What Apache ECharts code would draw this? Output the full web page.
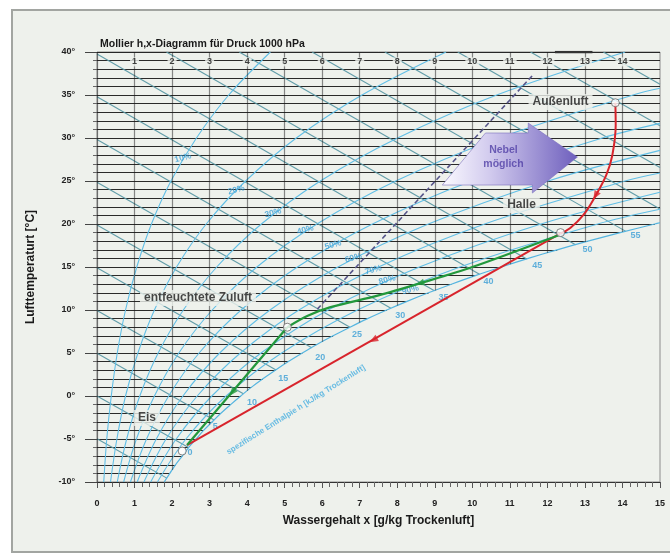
<!DOCTYPE html>
<html><head><meta charset="utf-8">
<script src="https://cdn.jsdelivr.net/npm/echarts@6/dist/echarts.min.js"></script>
<style>html,body{margin:0;padding:0;background:#fff}#c{width:670px;height:554px}</style>
</head><body><div id="c"></div>
<script>
// ---------- data ----------
const satT = [-10,-9,-8,-7,-6,-5,-4,-3,-2,-1,0,1,2,3,4,5,6,7,8,9,10,11,12,13,14,15,16,17,18,19,20];
const satX = [1.79,1.94,2.09,2.27,2.44,2.64,2.84,3.07,3.30,3.56,3.83,4.11,4.42,4.75,5.10,5.47,5.86,6.29,6.74,7.21,7.72,8.26,8.83,9.44,10.08,10.77,11.49,12.26,13.08,13.94,14.86];
const satEdge = [15, 20.15];
const isoTemps = [-10,-9,-8,-7,-6,-5,-4,-3,-2,-1,0,1,2,3,4,5,6,7,8,9,10,11,12,13,14,15,16,17,18,19,20,21,22,23,24,25,26,27,28,29,30,31,32,33,34,35,36,37,38,39,40];
const vertX = [0,1,2,3,4,5,6,7,8,9,10,11,12,13,14];
const vertEndT = [-10,-10,-8.6,-3.3,0.61,3.72,6.32,8.55,10.52,12.28,13.88,15.32,16.66,17.91,19.07];
const topLabels = ['1','2','3','4','5','6','7','8','9','10','11','12','13','14'];

const hVals = [-5,0,5,10,15,20,25,30,35,40,45,50,55,60,65,70,75];
const hStart = [[0,-4.97],[0,0],[0,4.97],[0,9.94],[0,14.91],[0,19.88],[0,24.85],[0,29.82],[0,34.79],[0,39.76],[1.85,40],[3.79,40],[5.73,40],[7.67,40],[9.61,40],[11.55,40],[13.49,40]];
const hEnd = [[1.86,-9.55],[2.44,-6.0],[3.12,-2.78],[3.90,0.25],[4.77,3.03],[5.72,5.61],[6.74,8.0],[7.83,10.2],[8.99,12.25],[10.19,14.16],[11.45,15.94],[12.75,17.59],[14.09,19.14],[15,21.75],[15,26.58],[15,31.42],[15,36.26]];
const hLabelText = ['0','5','10','15','20','25','30','35','40','45','50','55'];
const hLabelPos = [[2.48,-6.6],[3.15,-3.6],[4.13,-0.8],[4.96,2.0],[5.95,4.5],[6.93,7.1],[8.08,9.4],[9.23,11.5],[10.43,13.3],[11.73,15.2],[13.07,17.0],[14.35,18.7]];

const rhT = [-10,-5,0,5,10,15,20,25,30,35,40];
const rh10 = [0.18,0.26,0.38,0.54,0.76,1.06,1.45,1.97,2.65,3.51,4.62];
const rh20 = [0.36,0.53,0.76,1.09,1.53,2.12,2.91,3.96,5.31,7.06,9.30];
const rh30 = [0.54,0.79,1.14,1.63,2.30,3.19,4.38,5.95,8.01,10.65,14.07];
const rh40 = [0.71,1.05,1.53,2.18,3.07,4.26,5.86,7.96,10.71,14.28];
const rh50 = [0.89,1.32,1.91,2.72,3.84,5.34,7.34,9.98,13.46];
const rh60 = [1.07,1.58,2.29,3.27,4.61,6.42,8.83,12.02];
const rh70 = [1.25,1.84,2.67,3.82,5.38,7.50,10.33,14.07];
const rh80 = [1.43,2.11,3.06,4.37,6.16,8.59,11.83];
const rh90 = [1.61,2.37,3.44,4.92,6.94,9.67,13.34];
const rhEdgeT = [null,null,null,35.78,31.7,28.56,25.94,23.69,21.71];
const rhLabelText = ['10%','20%','30%','40%','50%','60%','70%','80%','90%'];
const rhLabelPos = [[2.29,27.67],[3.71,23.95],[4.69,21.28],[5.55,19.3],[6.29,17.56],[6.83,16.05],[7.36,14.65],[7.73,13.49],[8.35,12.33]];

const redCurve = [[13.81,34.1],[13.82,31.5],[13.73,28.0],[13.57,25.7],[13.28,23.26],[12.96,21.05],[12.61,19.53],[12.35,18.9]];
const redLine = [[12.35,18.9],[2.4,-5.7]];
const greenUpper = [[12.3,18.7],[10.0,15.0],[8.6,13.1],[7.5,11.7],[6.2,10.3],[5.6,9.3],[5.07,8.0]];
const greenLower = [[5.07,8.0],[2.4,-5.7]];
const dashedLine = [[5.87,10.1],[11.63,37.4]];
const topMark = [[12.2,40],[13.2,40]];
const statePoints = [[13.81,34.1],[12.35,19.0],[5.07,8.0],[2.27,-6.4]];
const arrowHeads = [[13.28,23.3,150],[7.36,6.5,119],[3.6,0.4,140],[8.6,13.1,107]];
const arrowColors = ['#d8242c','#d8242c','#22983c','#22983c'];
const fogArrow = [[9.2,24.53],[10.35,30.58],[11.49,30.58],[11.49,31.74],[12.8,27.79],[11.6,23.6],[11.6,24.53]];
const annotations = [
  ['Außenluft',12.35,34.19],
  ['Halle',11.31,22.21],
  ['entfeuchtete Zuluft',2.69,11.4],
  ['Eis',1.33,-2.56]
];
const fogText = ['Nebel\nmöglich',10.83,27.8];
const enthalpyText = ['spezifische Enthalpie h [kJ/kg Trockenluft]',5.3,-1.6];

// ---------- build ----------
const FONT = 'Liberation Sans';
const BG = '#eef1ec';
const isoData = isoTemps.map(t => ({coords: [[0,t],[t <= 20 ? satX[t+10] : 15, t]]}));
const vertData = vertX.map((x,i) => ({coords: [[x,40],[x,vertEndT[i]]]}));
const hData = hVals.map((h,i) => ({coords: [hStart[i], hEnd[i]]}));
const satData = satT.map((t,i) => [satX[i], t]).concat([satEdge]);
const rhArrays = [rh10,rh20,rh30,rh40,rh50,rh60,rh70,rh80,rh90];

const series = [];
series.push({type:'lines', coordinateSystem:'cartesian2d', data: isoData, silent:true, z:2,
  lineStyle:{color:'#1f1f1f', width:1.1, opacity:0.95}});
series.push({type:'lines', coordinateSystem:'cartesian2d', data: hData, silent:true, z:3,
  lineStyle:{color:'#5a98a4', width:1.1, opacity:0.95}});
rhArrays.forEach((arr, k) => {
  const d = arr.map((x,i) => [x, rhT[i]]);
  if (rhEdgeT[k] !== null) d.push([15, rhEdgeT[k]]);
  series.push({type:'line', data:d, smooth:0.35, showSymbol:false, silent:true, z:3,
    lineStyle:{color:'#62bfe6', width:1.1}});
});
series.push({type:'line', data:satData, smooth:0.3, showSymbol:false, silent:true, z:3,
  lineStyle:{color:'#55b5e0', width:1.2}});
series.push({type:'lines', coordinateSystem:'cartesian2d', data: vertData, silent:true, z:4,
  lineStyle:{color:'#1a1a1a', width:1.2}});
series.push({type:'line', data:topMark, showSymbol:false, silent:true, z:4,
  lineStyle:{color:'#333', width:2.5}});
// top labels row
series.push({type:'scatter', symbolSize:1, itemStyle:{color:'rgba(0,0,0,0)'}, z:6, silent:true,
  data: topLabels.map((s,i) => ({value:[i+1, 38.85], name:s})),
  label:{show:true, position:'inside', formatter:p=>p.name, color:'#111', fontFamily:FONT, fontWeight:'bold', fontSize:9,
    backgroundColor:BG, padding:[0,2]}});
// dashed line
series.push({type:'line', data:dashedLine, showSymbol:false, silent:true, z:5,
  lineStyle:{color:'#57568a', width:1.6, type:[5,3]}});
// fog arrow
series.push({type:'custom', silent:true, z:6, data:[0],
  renderItem:(params, api) => ({type:'polygon', shape:{points: fogArrow.map(p => api.coord(p))},
    style:{fill:new echarts.graphic.LinearGradient(0,0,1,0,[{offset:0,color:'#fbfaff'},{offset:0.35,color:'#d2cbee'},{offset:1,color:'#6e5fbd'}]), stroke:'#7a6fbd', lineWidth:0.6}})});
series.push({type:'scatter', symbolSize:1, itemStyle:{color:'rgba(0,0,0,0)'}, z:7, silent:true,
  data:[{value:[fogText[1],fogText[2]], name:fogText[0]}],
  label:{show:true, position:'inside', formatter:p=>p.name, color:'#5140a6', fontFamily:FONT, fontWeight:'bold', fontSize:10.5, lineHeight:14, align:'center'}});
// process lines
series.push({type:'line', data:redCurve, smooth:0.4, showSymbol:false, silent:true, z:8, lineStyle:{color:'#d8242c', width:2}});
series.push({type:'line', data:redLine, showSymbol:false, silent:true, z:8, lineStyle:{color:'#d8242c', width:2}});
series.push({type:'line', data:greenUpper, smooth:0.3, showSymbol:false, silent:true, z:8, lineStyle:{color:'#22983c', width:2.2}});
series.push({type:'line', data:greenLower, showSymbol:false, silent:true, z:8, lineStyle:{color:'#22983c', width:2.2}});
arrowHeads.forEach((a,i) => {
  series.push({type:'scatter', symbol:'triangle', symbolSize:[7,9], symbolRotate:a[2], silent:true, z:9,
    itemStyle:{color:arrowColors[i]}, data:[[a[0],a[1]]]});
});
// state points
series.push({type:'scatter', symbol:'circle', symbolSize:8, silent:true, z:10,
  itemStyle:{color:'#ffffff', borderColor:'#666', borderWidth:1}, data:statePoints});
// enthalpy labels
series.push({type:'scatter', symbolSize:1, itemStyle:{color:'rgba(0,0,0,0)'}, z:7, silent:true,
  data: hLabelText.map((s,i) => ({value:hLabelPos[i], name:s})),
  label:{show:true, position:'inside', formatter:p=>p.name, color:'#3b9fd6', fontFamily:FONT, fontWeight:'bold', fontSize:9}});
// RH labels
series.push({type:'scatter', symbolSize:1, itemStyle:{color:'rgba(0,0,0,0)'}, z:7, silent:true,
  data: rhLabelText.map((s,i) => ({value:rhLabelPos[i], name:s})),
  label:{show:true, position:'inside', rotate:15, formatter:p=>p.name, color:'#3b9fd6', fontFamily:FONT, fontWeight:'bold', fontSize:8.5}});
// enthalpy axis text
series.push({type:'scatter', symbolSize:1, itemStyle:{color:'rgba(0,0,0,0)'}, z:7, silent:true,
  data:[{value:[enthalpyText[1],enthalpyText[2]], name:enthalpyText[0]}],
  label:{show:true, position:'inside', rotate:32, formatter:p=>p.name, color:'#45aee0', fontFamily:FONT, fontWeight:'bold', fontSize:8}});
// annotations
series.push({type:'scatter', symbolSize:1, itemStyle:{color:'rgba(0,0,0,0)'}, z:11, silent:true,
  data: annotations.map(a => ({value:[a[1],a[2]], name:a[0]})),
  label:{show:true, position:'inside', formatter:p=>p.name, color:'#1a1a1a', fontFamily:FONT, fontWeight:'bold', fontSize:12,
    backgroundColor:BG, padding:[2,4]}});

const chart = echarts.init(document.getElementById('c'), null, {renderer:'canvas'});
chart.setOption({
  animation:false,
  backgroundColor:'#ffffff',
  graphic:[
    {type:'rect', z:-10, shape:{x:12,y:10,width:680,height:542}, style:{fill:BG, stroke:'#a2a5a1', lineWidth:2}},
    {type:'text', z:20, left:100, top:39, style:{text:'Mollier h,x-Diagramm für Druck 1000 hPa', fill:'#1a1a1a', font:'bold 10.5px "Liberation Sans"'}}
  ],
  grid:{left:97, right:10, top:52, bottom:72, show:true, borderColor:'#8c8c8c', borderWidth:1, backgroundColor:'transparent'},
  xAxis:{type:'value', min:0, max:15, interval:1,
    name:'Wassergehalt x [g/kg Trockenluft]', nameLocation:'middle', nameGap:33,
    nameTextStyle:{fontFamily:FONT, fontWeight:'bold', fontSize:12, color:'#1a1a1a'},
    axisLine:{show:true, onZero:false, lineStyle:{color:'#333', width:1}},
    axisTick:{show:true, length:6, lineStyle:{color:'#555'}},
    minorTick:{show:true, splitNumber:5, length:5, lineStyle:{color:'#666'}},
    axisLabel:{margin:17, fontFamily:FONT, fontWeight:'bold', fontSize:9, color:'#222'},
    splitLine:{show:false}},
  yAxis:{type:'value', min:-10, max:40, interval:5,
    name:'Lufttemperaturt [°C]', nameLocation:'middle', nameGap:60,
    nameTextStyle:{fontFamily:FONT, fontWeight:'bold', fontSize:12, color:'#1a1a1a'},
    axisLine:{show:false, onZero:false},
    axisTick:{show:true, length:12, lineStyle:{color:'#444'}},
    minorTick:{show:true, splitNumber:5, length:4, lineStyle:{color:'#666'}},
    axisLabel:{margin:22, fontFamily:FONT, fontWeight:'bold', fontSize:9, color:'#222', formatter:v => v + '°'},
    splitLine:{show:false}},
  series: series
});
</script></body></html>
